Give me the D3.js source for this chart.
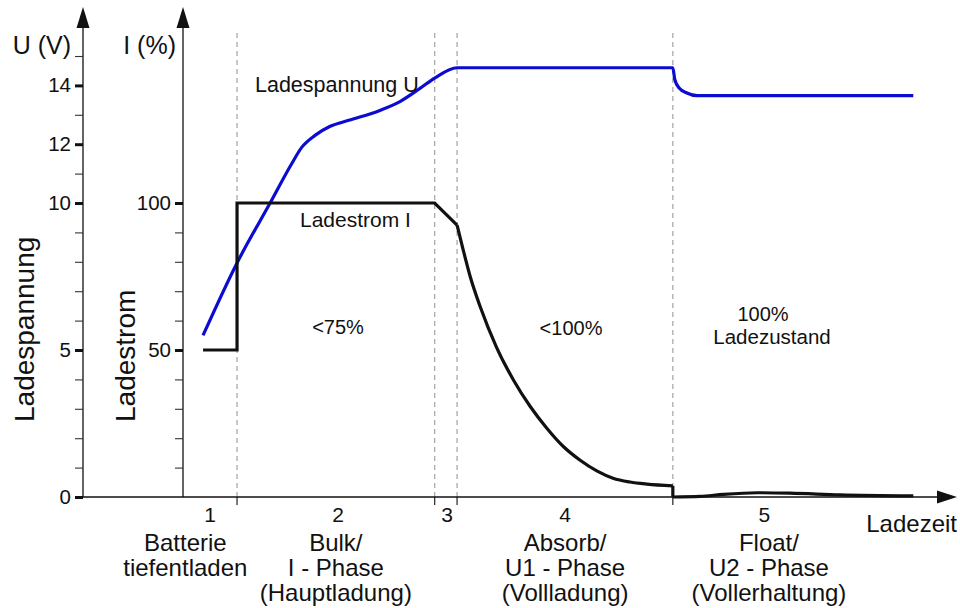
<!DOCTYPE html>
<html>
<head>
<meta charset="utf-8">
<script src="https://cdn.jsdelivr.net/npm/d3@7"></script>
<style>
  html, body { margin: 0; padding: 0; background: #fff; }
  svg { display: block; font-family: "Liberation Sans", Arial, Helvetica, sans-serif; }
</style>
</head>
<body>
<svg id="chart" width="960" height="608"></svg>
<script>
// ---------------- DATA ----------------
// time in arbitrary units (Ladezeit), 0..100
const phaseBoundaries = [7.0, 32.6, 35.5, 63.45];
const phaseNumbers = ["1", "2", "3", "4", "5"];
const phaseNumberTimes = [3.5, 20.1, 34.2, 49.5, 75.3];
const phaseTextTimes = [0.3, 19.8, 34.2, 49.5, 75.9];
const phaseLines = [
  ["Batterie", "tiefentladen"],
  ["Bulk/", "I - Phase", "(Hauptladung)"],
  [],
  ["Absorb/", "U1 - Phase", "(Vollladung)"],
  ["Float/", "U2 - Phase", "(Vollerhaltung)"]
];

// Ladespannung U (V)
const voltageTime   = [2.6, 7.0, 11.5, 14.0, 15.4, 17.1, 19.0, 21.6, 25.5, 28.1, 30.7, 32.6, 35.5, 63.45, 63.7, 64.3, 65.2, 66.6, 94.6];
const voltageValues = [5.5, 7.96, 10.1, 11.3, 11.9, 12.3, 12.6, 12.82, 13.15, 13.45, 13.9, 14.25, 14.6, 14.6, 14.2, 13.9, 13.75, 13.65, 13.65];

// Ladestrom I (%)
const currentTime   = [2.6, 7.0, 7.0, 32.6, 35.5, 36.3, 37.2, 38.5, 40.6, 42.8, 45.0, 47.1, 49.3, 51.4, 53.6, 55.7, 57.9, 60.1, 63.45, 63.45, 67.0, 70.0, 74.4, 78.6, 85.1, 94.6];
const currentValues = [50, 50, 100, 100, 92.5, 84, 75, 64.7, 51, 39.8, 30.7, 23.5, 17.1, 12.6, 8.9, 6.4, 5.1, 4.4, 3.8, 0, 0.2, 0.9, 1.45, 1.3, 0.7, 0.35];

// axis ticks
const uMinorTicks = d3.range(1, 16);
const uMajorTicks = [0, 5, 10, 12, 14];
const iMinorTicks = d3.range(10, 100, 10);
const iMajorTicks = [50, 100];

// annotations inside the plot
const annotations = [
  { text: "Ladespannung U", tx: 255, y: 92, anchor: "start", size: 21.5 },
  { text: "Ladestrom I", tx: 300, y: 227, anchor: "start", size: 21 },
  { text: "<75%", tx: 338, y: 334, anchor: "middle", size: 20 },
  { text: "<100%", tx: 571, y: 335, anchor: "middle", size: 20 },
  { text: "100%", tx: 763, y: 321, anchor: "middle", size: 20 },
  { text: "Ladezustand", tx: 772, y: 344, anchor: "middle", size: 20.5 }
];

// ---------------- LAYOUT ----------------
const svg = d3.select("#chart");
const axisY0 = 497;
const uAxisX = 83, iAxisX = 183;
const x = d3.scaleLinear().domain([0, 100]).range([183, 955]);
const yU = d3.scaleLinear().domain([0, 10]).range([axisY0, 203]);
const yI = d3.scaleLinear().domain([0, 100]).range([axisY0, 203]);
const ink = "#111";
const blue = "#0c0cd0";

// dashed phase boundaries
phaseBoundaries.forEach(b => {
  svg.append("line").attr("x1", x(b)).attr("x2", x(b)).attr("y1", 33).attr("y2", axisY0)
    .attr("stroke", "#a3a3a3").attr("stroke-width", 1.2).attr("stroke-dasharray", "5,4");
  svg.append("line").attr("x1", x(b)).attr("x2", x(b)).attr("y1", axisY0).attr("y2", 505)
    .attr("stroke", "#333").attr("stroke-width", 1.3);
});

// vertical axes
function vAxis(xPos, scale, minor, major) {
  svg.append("line").attr("x1", xPos).attr("x2", xPos).attr("y1", axisY0).attr("y2", 26)
    .attr("stroke", ink).attr("stroke-width", 1.3);
  svg.append("path").attr("d", `M${xPos},7 L${xPos - 6.5},28 L${xPos + 6.5},28 Z`).attr("fill", ink);
  const gMinor = svg.append("g").attr("transform", `translate(${xPos},0)`)
    .call(d3.axisLeft(scale).tickValues(minor).tickSize(8).tickFormat(""));
  gMinor.select(".domain").remove();
  gMinor.selectAll("line").attr("stroke", "#333").attr("stroke-width", 1.1);
  const gMajor = svg.append("g").attr("transform", `translate(${xPos},0)`)
    .call(d3.axisLeft(scale).tickValues(major).tickSize(8).tickPadding(4).tickFormat(d3.format("d")));
  gMajor.select(".domain").remove();
  gMajor.selectAll("line").attr("stroke", ink).attr("stroke-width", 3);
  gMajor.selectAll("text").attr("font-size", 20.5).attr("fill", ink)
    .attr("font-family", '"Liberation Sans", Arial, sans-serif');
}
vAxis(uAxisX, yU, uMinorTicks, uMajorTicks);
vAxis(iAxisX, yI, iMinorTicks, iMajorTicks);

// x axis
svg.append("line").attr("x1", 75).attr("x2", 940).attr("y1", axisY0).attr("y2", axisY0)
  .attr("stroke", ink).attr("stroke-width", 1.3);
svg.append("path").attr("d", `M957,${axisY0} L937,${axisY0 - 6.5} L937,${axisY0 + 6.5} Z`).attr("fill", ink);

// axis titles
svg.append("text").attr("x", 71).attr("y", 54).attr("text-anchor", "end").attr("font-size", 25).attr("fill", ink).text("U (V)");
svg.append("text").attr("x", 176).attr("y", 54).attr("text-anchor", "end").attr("font-size", 25).attr("fill", ink).text("I (%)");
svg.append("text").attr("transform", "translate(34,422) rotate(-90)").attr("font-size", 28).attr("fill", ink).text("Ladespannung");
svg.append("text").attr("transform", "translate(135,422) rotate(-90)").attr("font-size", 28).attr("fill", ink).text("Ladestrom");
svg.append("text").attr("x", 957).attr("y", 532).attr("text-anchor", "end").attr("font-size", 24).attr("fill", ink).text("Ladezeit");

// phase labels
phaseNumbers.forEach((n, i) => {
  svg.append("text").attr("x", x(phaseNumberTimes[i])).attr("y", 522).attr("text-anchor", "middle")
    .attr("font-size", 21).attr("fill", ink).text(n);
  phaseLines[i].forEach((ln, j) => {
    svg.append("text").attr("x", x(phaseTextTimes[i])).attr("y", 551 + j * 25).attr("text-anchor", "middle")
      .attr("font-size", 24).attr("fill", ink).text(ln);
  });
});

// voltage curve
const vData = voltageTime.map((t, i) => [t, voltageValues[i]]);
svg.append("path").datum(vData)
  .attr("d", d3.line().x(d => x(d[0])).y(d => yU(d[1])).curve(d3.curveMonotoneX))
  .attr("fill", "none").attr("stroke", blue).attr("stroke-width", 3.2).attr("stroke-linejoin", "round");

// current curve (segments: step linear, decay smooth, drop linear, float smooth)
const cData = currentTime.map((t, i) => [t, currentValues[i]]);
const segs = [[0, 4, d3.curveLinear], [4, 18, d3.curveMonotoneX], [18, 19, d3.curveLinear], [19, 25, d3.curveMonotoneX]];
segs.forEach(([a, b, c]) => {
  svg.append("path").datum(cData.slice(a, b + 1))
    .attr("d", d3.line().x(d => x(d[0])).y(d => yI(d[1])).curve(c))
    .attr("fill", "none").attr("stroke", ink).attr("stroke-width", 3.2)
    .attr("stroke-linejoin", "miter").attr("stroke-linecap", "butt");
});

// annotations
annotations.forEach(a => {
  svg.append("text").attr("x", a.tx).attr("y", a.y).attr("text-anchor", a.anchor)
    .attr("font-size", a.size).attr("fill", ink).text(a.text);
});
</script>
</body>
</html>
